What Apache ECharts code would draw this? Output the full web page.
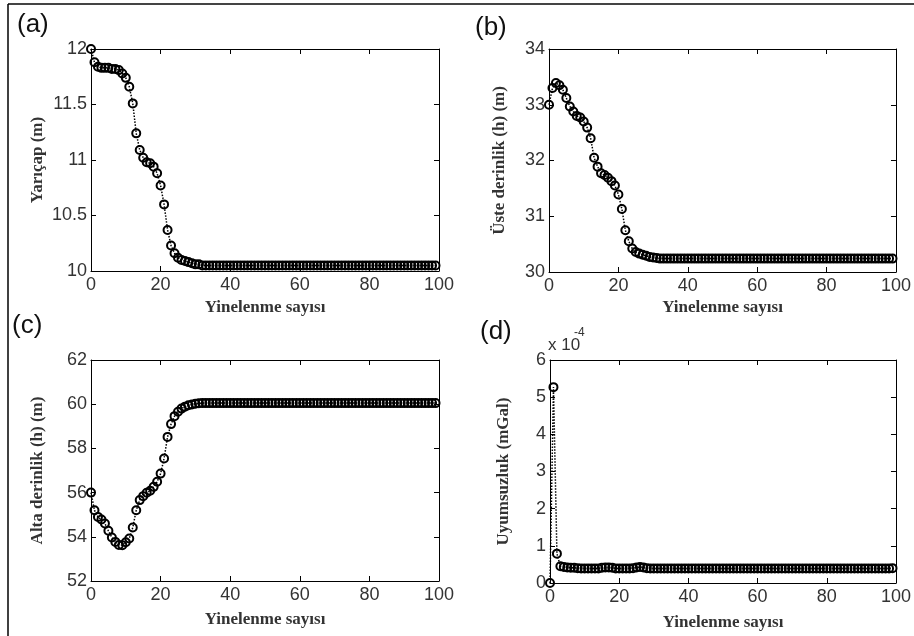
<!DOCTYPE html>
<html>
<head>
<meta charset="utf-8">
<title>Yinelenme</title>
<script src="https://cdn.jsdelivr.net/npm/echarts@6/dist/echarts.min.js"></script>
<style>
  html, body { margin: 0; padding: 0; background: #fff; }
  #chart { width: 914px; height: 636px; }
</style>
</head>
<body>
<div id="chart"></div>
<script>
// iteration index 0..99
const iterations = Array.from({ length: 100 }, (_, i) => i)

// (a) Yarıçap (m)
const radius = [
  12.00, 11.88, 11.84, 11.83, 11.83, 11.83, 11.82, 11.82, 11.81, 11.78,
  11.74, 11.66, 11.51, 11.24, 11.09, 11.02, 10.98, 10.97, 10.94, 10.88,
  10.77, 10.60, 10.37, 10.23, 10.16, 10.12, 10.10, 10.09, 10.08, 10.07,
  10.06, 10.06, 10.05, 10.05, 10.05, 10.05, 10.05, 10.05, 10.05, 10.05,
  10.05, 10.05, 10.05, 10.05, 10.05, 10.05, 10.05, 10.05, 10.05, 10.05,
  10.05, 10.05, 10.05, 10.05, 10.05, 10.05, 10.05, 10.05, 10.05, 10.05,
  10.05, 10.05, 10.05, 10.05, 10.05, 10.05, 10.05, 10.05, 10.05, 10.05,
  10.05, 10.05, 10.05, 10.05, 10.05, 10.05, 10.05, 10.05, 10.05, 10.05,
  10.05, 10.05, 10.05, 10.05, 10.05, 10.05, 10.05, 10.05, 10.05, 10.05,
  10.05, 10.05, 10.05, 10.05, 10.05, 10.05, 10.05, 10.05, 10.05, 10.05
]

// (b) Üste derinlik (h) (m)
const topDepth = [
  33.00, 33.30, 33.39, 33.35, 33.27, 33.12, 32.97, 32.88, 32.80, 32.77,
  32.70, 32.59, 32.40, 32.05, 31.89, 31.77, 31.74, 31.69, 31.63, 31.55,
  31.39, 31.13, 30.75, 30.55, 30.42, 30.36, 30.33, 30.31, 30.29, 30.27,
  30.26, 30.25, 30.24, 30.24, 30.24, 30.24, 30.24, 30.24, 30.24, 30.24,
  30.24, 30.24, 30.24, 30.24, 30.24, 30.24, 30.24, 30.24, 30.24, 30.24,
  30.24, 30.24, 30.24, 30.24, 30.24, 30.24, 30.24, 30.24, 30.24, 30.24,
  30.24, 30.24, 30.24, 30.24, 30.24, 30.24, 30.24, 30.24, 30.24, 30.24,
  30.24, 30.24, 30.24, 30.24, 30.24, 30.24, 30.24, 30.24, 30.24, 30.24,
  30.24, 30.24, 30.24, 30.24, 30.24, 30.24, 30.24, 30.24, 30.24, 30.24,
  30.24, 30.24, 30.24, 30.24, 30.24, 30.24, 30.24, 30.24, 30.24, 30.24
]

// (c) Alta derinlik (h) (m)
const bottomDepth = [
  56.00, 55.20, 54.90, 54.78, 54.60, 54.27, 53.97, 53.77, 53.63, 53.62,
  53.75, 53.92, 54.42, 55.20, 55.66, 55.84, 55.99, 56.08, 56.26, 56.49,
  56.86, 57.54, 58.52, 59.10, 59.46, 59.66, 59.80, 59.89, 59.95, 59.99,
  60.02, 60.04, 60.05, 60.05, 60.05, 60.05, 60.05, 60.05, 60.05, 60.05,
  60.05, 60.05, 60.05, 60.05, 60.05, 60.05, 60.05, 60.05, 60.05, 60.05,
  60.05, 60.05, 60.05, 60.05, 60.05, 60.05, 60.05, 60.05, 60.05, 60.05,
  60.05, 60.05, 60.05, 60.05, 60.05, 60.05, 60.05, 60.05, 60.05, 60.05,
  60.05, 60.05, 60.05, 60.05, 60.05, 60.05, 60.05, 60.05, 60.05, 60.05,
  60.05, 60.05, 60.05, 60.05, 60.05, 60.05, 60.05, 60.05, 60.05, 60.05,
  60.05, 60.05, 60.05, 60.05, 60.05, 60.05, 60.05, 60.05, 60.05, 60.05
]

// (d) Uyumsuzluk (mGal), in units of 1e-4
const misfit = [
  0.00, 5.27, 0.79, 0.45, 0.43, 0.42, 0.41, 0.41, 0.40, 0.39,
  0.39, 0.39, 0.39, 0.39, 0.39, 0.41, 0.42, 0.42, 0.41, 0.39,
  0.39, 0.39, 0.39, 0.39, 0.40, 0.42, 0.43, 0.42, 0.40, 0.39,
  0.39, 0.39, 0.39, 0.39, 0.39, 0.39, 0.39, 0.39, 0.39, 0.39,
  0.39, 0.39, 0.39, 0.39, 0.39, 0.39, 0.39, 0.39, 0.39, 0.39,
  0.39, 0.39, 0.39, 0.39, 0.39, 0.39, 0.39, 0.39, 0.39, 0.39,
  0.39, 0.39, 0.39, 0.39, 0.39, 0.39, 0.39, 0.39, 0.39, 0.39,
  0.39, 0.39, 0.39, 0.39, 0.39, 0.39, 0.39, 0.39, 0.39, 0.39,
  0.39, 0.39, 0.39, 0.39, 0.39, 0.39, 0.39, 0.39, 0.39, 0.39,
  0.39, 0.39, 0.39, 0.39, 0.39, 0.39, 0.39, 0.39, 0.39, 0.40
]

const xName = 'Yinelenme sayısı'

const panels = [
  { tag: '(a)', yName: 'Yarıçap (m)', values: radius, min: 10, max: 12, step: 0.5,
    grid: { left: 91, top: 49, width: 348, height: 222 }, xGap: 28, yGap: 45 },
  { tag: '(b)', yName: 'Üste derinlik (h) (m)', values: topDepth, min: 30, max: 34, step: 1,
    grid: { left: 549, top: 49, width: 348, height: 223 }, xGap: 27, yGap: 41 },
  { tag: '(c)', yName: 'Alta derinlik (h) (m)', values: bottomDepth, min: 52, max: 62, step: 2,
    grid: { left: 91, top: 360, width: 348, height: 221 }, xGap: 30, yGap: 45 },
  { tag: '(d)', yName: 'Uyumsuzluk (mGal)', values: misfit, min: 0, max: 6, step: 1,
    grid: { left: 550, top: 360, width: 347, height: 223 }, xGap: 31, yGap: 38 }
]

const tickFont = { fontFamily: 'Liberation Sans', fontSize: 18, color: '#333' }
const nameFont = { fontFamily: 'Liberation Serif', fontSize: 17, fontWeight: 'bold', color: '#333' }
const axisLine = { show: true, onZero: false, lineStyle: { color: '#000', width: 1 } }

const grids = []
const xAxes = []
const yAxes = []
const series = []

panels.forEach((p, i) => {
  grids.push(p.grid)
  // bottom x axis with labels
  xAxes.push({
    type: 'value', gridIndex: i, min: 0, max: 100, interval: 20, position: 'bottom',
    name: xName, nameLocation: 'middle', nameGap: p.xGap, nameTextStyle: nameFont,
    axisLine, axisTick: { inside: true, length: 5, lineStyle: { color: '#000' } },
    axisLabel: { ...tickFont, margin: 5 }, splitLine: { show: false }
  })
  // top x axis: box edge with ticks only
  xAxes.push({
    type: 'value', gridIndex: i, min: 0, max: 100, interval: 20, position: 'top',
    axisLine, axisTick: { inside: true, length: 5, lineStyle: { color: '#000' } },
    axisLabel: { show: false }, splitLine: { show: false }
  })
  yAxes.push({
    type: 'value', gridIndex: i, min: p.min, max: p.max, interval: p.step, position: 'left',
    name: p.yName, nameLocation: 'middle', nameGap: p.yGap, nameTextStyle: nameFont,
    axisLine, axisTick: { inside: true, length: 5, lineStyle: { color: '#000' } },
    axisLabel: { ...tickFont, margin: 4 }, splitLine: { show: false }
  })
  yAxes.push({
    type: 'value', gridIndex: i, min: p.min, max: p.max, interval: p.step, position: 'right',
    axisLine, axisTick: { inside: true, length: 5, lineStyle: { color: '#000' } },
    axisLabel: { show: false }, splitLine: { show: false }
  })
  series.push({
    type: 'line',
    xAxisIndex: i * 2,
    yAxisIndex: i * 2,
    data: iterations.map((it, k) => [it, p.values[k]]),
    symbol: 'circle',
    symbolSize: 8,
    showAllSymbol: true,
    lineStyle: { color: '#000', width: 1.5, type: 'dotted' },
    itemStyle: { color: 'rgba(0,0,0,0)', borderColor: '#000', borderWidth: 2 },
    silent: true,
    animation: false
  })
})

const tagPos = [[17, 27], [475, 30], [12, 328], [480, 334]]

const graphics = [
  // outer frame (top and left only)
  { type: 'line', shape: { x1: 8, y1: 4, x2: 914, y2: 4 }, style: { stroke: '#444', lineWidth: 2 } },
  { type: 'line', shape: { x1: 8, y1: 4, x2: 8, y2: 636 }, style: { stroke: '#000', lineWidth: 1.5 } },
  // exponent of (d)
  { type: 'text', left: 548, top: 337, style: { text: 'x 10', font: '17px "Liberation Sans"', fill: '#333' } },
  { type: 'text', left: 574, top: 327, style: { text: '-4', font: '12px "Liberation Sans"', fill: '#333' } }
]
panels.forEach((p, i) => {
  graphics.push({
    type: 'text', left: tagPos[i][0], top: tagPos[i][1] - 15,
    style: { text: p.tag, font: '26px "Liberation Sans"', fill: '#111' }
  })
})

const chart = echarts.init(document.getElementById('chart'))
chart.setOption({
  backgroundColor: '#fff',
  animation: false,
  grid: grids,
  xAxis: xAxes,
  yAxis: yAxes,
  series,
  graphic: graphics
})
</script>
</body>
</html>
